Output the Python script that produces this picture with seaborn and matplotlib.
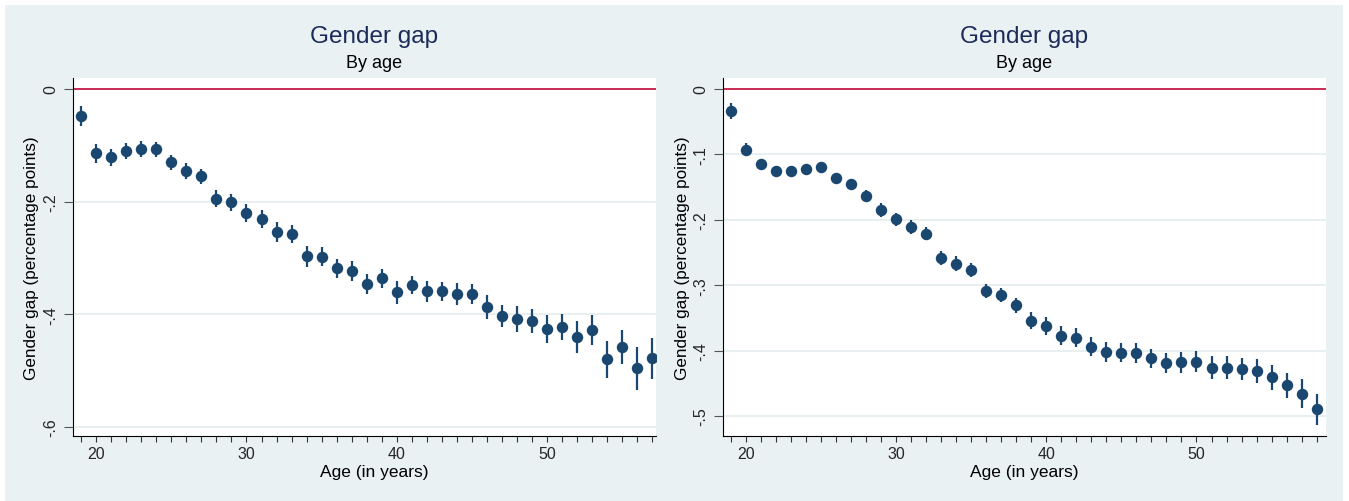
import numpy as np
import pandas as pd
import matplotlib
matplotlib.use("Agg")
import matplotlib.pyplot as plt
import seaborn as sns
from matplotlib.patches import Rectangle

# ---------------- data ----------------
ages_left = list(range(19, 58))
gap_left = [-0.048, -0.114, -0.121, -0.110, -0.107, -0.107, -0.130, -0.146, -0.155,
            -0.195, -0.201, -0.220, -0.231, -0.254, -0.258, -0.297, -0.298, -0.318,
            -0.323, -0.346, -0.336, -0.361, -0.348, -0.359, -0.359, -0.364, -0.364,
            -0.387, -0.403, -0.409, -0.412, -0.426, -0.423, -0.440, -0.428, -0.480,
            -0.458, -0.496, -0.478]
ci_left = [0.017, 0.017, 0.015, 0.015, 0.014, 0.013, 0.013, 0.014, 0.013,
           0.015, 0.015, 0.016, 0.016, 0.017, 0.016, 0.019, 0.017, 0.017,
           0.017, 0.018, 0.017, 0.021, 0.016, 0.019, 0.017, 0.019, 0.018,
           0.022, 0.019, 0.023, 0.022, 0.025, 0.023, 0.028, 0.026, 0.033,
           0.030, 0.038, 0.036]

ages_right = list(range(19, 59))
gap_right = [-0.034, -0.093, -0.115, -0.126, -0.125, -0.123, -0.120, -0.136, -0.146,
             -0.163, -0.185, -0.199, -0.211, -0.221, -0.258, -0.267, -0.277, -0.309,
             -0.315, -0.331, -0.354, -0.362, -0.377, -0.380, -0.394, -0.402, -0.403,
             -0.404, -0.412, -0.419, -0.418, -0.417, -0.426, -0.426, -0.428, -0.431,
             -0.441, -0.453, -0.466, -0.490]
ci_right = [0.012, 0.010, 0.008, 0.007, 0.007, 0.007, 0.007, 0.008, 0.008,
            0.009, 0.010, 0.010, 0.010, 0.010, 0.011, 0.011, 0.011, 0.011,
            0.011, 0.012, 0.013, 0.014, 0.0145, 0.014, 0.0145, 0.015, 0.015,
            0.015, 0.015, 0.016, 0.016, 0.016, 0.017, 0.017, 0.017, 0.018,
            0.019, 0.019, 0.022, 0.024]

yticks_left = [0, -0.2, -0.4, -0.6]
yticklabels_left = ["0", "-.2", "-.4", "-.6"]
yticks_right = [0, -0.1, -0.2, -0.3, -0.4, -0.5]
yticklabels_right = ["0", "-.1", "-.2", "-.3", "-.4", "-.5"]
xlabel_years = [20, 30, 40, 50]

title = "Gender gap"
subtitle = "By age"
xlabel = "Age (in years)"
ylabel = "Gender gap (percentage points)"

# ---------------- style ----------------
sns.set_theme(style="white")
plt.rcParams['font.family'] = ['Liberation Sans', 'DejaVu Sans']

W, H = 1349, 502
fig = plt.figure(figsize=(W / 100, H / 100), dpi=100)
fig.patch.set_facecolor("white")
BG = "#EAF1F3"
NAVY = "#1A476F"
RED = "#C92A52"
GRID = "#E6EEF0"
TITLE_C = "#1C2B5A"

fig.patches.append(Rectangle((5 / W, 0), (1343 - 5) / W, (H - 6) / H,
                             transform=fig.transFigure, facecolor=BG,
                             edgecolor="none", zorder=-10))


def px_rect(x0, x1, y0, y1):
    return [x0 / W, 1 - y1 / H, (x1 - x0) / W, (y1 - y0) / H]


panels = [
    dict(ages=ages_left, gap=gap_left, ci=ci_left, rect=px_rect(73, 656, 79, 437),
         xlim=(18.46, 57.24), ylim=(-0.616, 0.0195), yt=yticks_left,
         ytl=yticklabels_left, tx=374, ylx=32),
    dict(ages=ages_right, gap=gap_right, ci=ci_right, rect=px_rect(723, 1326, 79, 437),
         xlim=(18.49, 58.62), ylim=(-0.5306, 0.0168), yt=yticks_right,
         ytl=yticklabels_right, tx=1024, ylx=683),
]

for p in panels:
    df = pd.DataFrame({"age": p["ages"], "gap": p["gap"], "ci": p["ci"]})
    df["lo"] = df["gap"] - df["ci"]
    df["hi"] = df["gap"] + df["ci"]
    ax = fig.add_axes(p["rect"])
    ax.set_facecolor("white")
    ax.set_xlim(*p["xlim"])
    ax.set_ylim(*p["ylim"])
    for yv in p["yt"]:
        if yv != 0:
            ax.axhline(yv, color=GRID, lw=1.3, zorder=0)
    ax.axhline(0, color=RED, lw=1.4, zorder=1)
    ax.vlines(df["age"], df["lo"], df["hi"], color=NAVY, lw=1.6, zorder=2)
    sns.scatterplot(data=df, x="age", y="gap", ax=ax, color=NAVY, s=68,
                    edgecolor=NAVY, linewidth=0, zorder=3, legend=False)
    ax.set_xticks(p["ages"])
    ax.set_xticklabels([str(a) if a in xlabel_years else "" for a in p["ages"]],
                       fontsize=11.5)
    ax.set_yticks(p["yt"])
    ax.set_yticklabels(p["ytl"], rotation=90, va="center", fontsize=11.5)
    ax.tick_params(axis="x", length=4.5, width=0.8, color="#333333", pad=3,
                   bottom=True, direction="out")
    ax.tick_params(axis="y", length=6.5, width=0.8, color="#555555", pad=4,
                   left=True, direction="out")
    for s in ["top", "right"]:
        ax.spines[s].set_visible(False)
    for s in ["left", "bottom"]:
        ax.spines[s].set_color("black")
        ax.spines[s].set_linewidth(0.8)
    ax.set_xlabel("")
    ax.set_ylabel("")
    fig.text(p["tx"] / W, 1 - 37 / H, title, ha="center", va="center",
             fontsize=17.5, color=TITLE_C)
    fig.text(p["tx"] / W, 1 - 64 / H, subtitle, ha="center", va="center",
             fontsize=13, color="black")
    fig.text(p["tx"] / W, 1 - 473 / H, xlabel, ha="center", va="center",
             fontsize=12.5, color="black")
    fig.text(p["ylx"] / W, 1 - 258 / H, ylabel, ha="center", va="center",
             rotation=90, fontsize=12.3, color="black")

fig.savefig("out.png", dpi=100, facecolor=fig.get_facecolor())
